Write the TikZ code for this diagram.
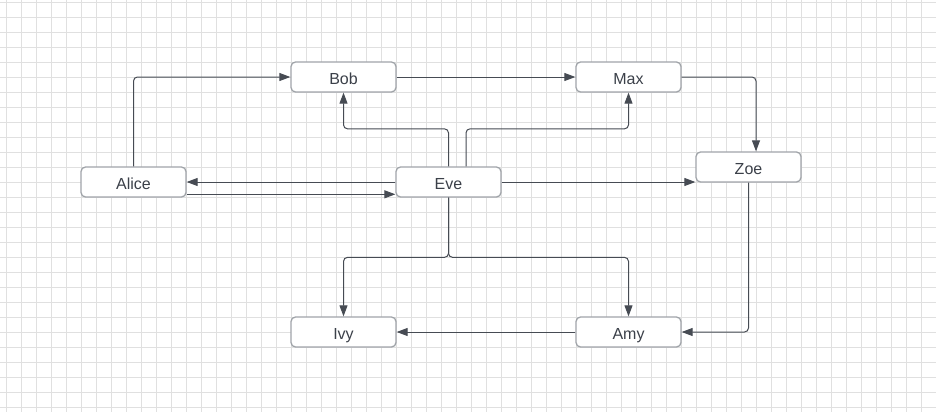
\documentclass[tikz,border=0pt]{standalone}
\usepackage{fontspec}
\setmainfont{Liberation Sans}
\usetikzlibrary{arrows.meta,calc}
\definecolor{gridc}{HTML}{E0E0E0}
\definecolor{boxc}{HTML}{A0A4A9}
\definecolor{edgec}{HTML}{464B53}
\definecolor{textc}{HTML}{3B4049}
\tikzset{
  person/.style={draw=boxc, line width=1.3pt, fill=white, rounded corners=4.5pt,
    minimum width=105pt, minimum height=30pt, inner sep=0pt,
    text height=14pt, text depth=0pt,
    text=textc, font=\fontsize{16}{19}\selectfont},
  edge/.style={draw=edgec, line width=1pt, rounded corners=4pt,
    -{Triangle[length=11pt,width=8pt]}},
}
\begin{document}
\begin{tikzpicture}[x=1pt,y=-1pt]
\useasboundingbox (0,0) rectangle (936,412);
\fill[white] (0,0) rectangle (936,412);
\foreach \k in {0,...,61} {\draw[gridc, line width=0.8pt] ({6.7+15*\k},0) -- ({6.7+15*\k},412);}
\foreach \k in {0,...,27} {\draw[gridc, line width=0.8pt] (0,{2.3+15*\k}) -- (936,{2.3+15*\k});}

\node[person] (Alice) at (133.5,182) {Alice};
\node[person] (Bob)   at (343.5,77)  {Bob};
\node[person] (Max)   at (628.5,77)  {Max};
\node[person] (Zoe)   at (748.5,167) {Zoe};
\node[person] (Eve)   at (448.5,182) {Eve};
\node[person] (Ivy)   at (343.5,332) {Ivy};
\node[person] (Amy)   at (628.5,332) {Amy};

\draw[edge] (Alice.north) |- (Bob.west);
\draw[edge] (Eve.west) -- (Alice.east);
\draw[edge] ([yshift=-12.3pt]Alice.east) -- ([yshift=-12.3pt]Eve.west);
\draw[edge] (Eve.north) -- ++(0,-37.5) -| (Bob.south);
\draw[edge] ([xshift=17.5pt]Eve.north) -- ++(0,-37.5) -| (Max.south);
\draw[edge] (Bob.east) -- (Max.west);
\draw[edge] (Max.east) -| ([xshift=7.5pt]Zoe.north);
\draw[edge] (Eve.east) -- (Eve.east -| Zoe.west);
\draw[edge] (Zoe.south) |- (Amy.east);
\draw[edge] (Eve.south) -- ++(0,59.7) -| (Ivy.north);
\draw[edge] (Eve.south) -- ++(0,59.7) -| (Amy.north);
\draw[edge] (Amy.west) -- (Ivy.east);
\end{tikzpicture}
\end{document}
